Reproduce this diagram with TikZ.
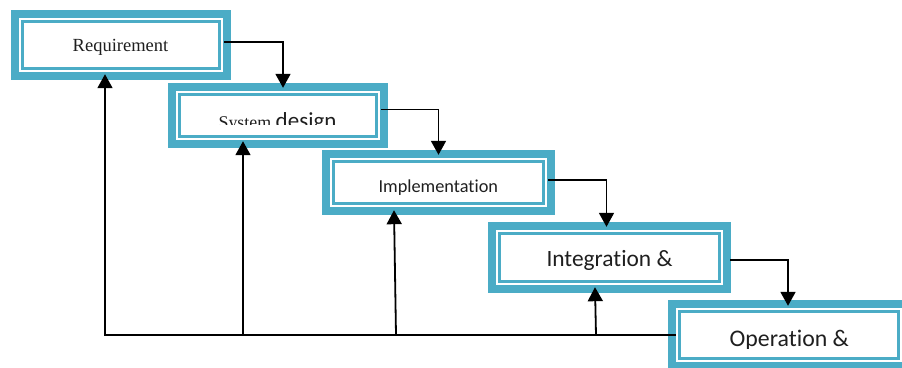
\documentclass[tikz,border=0pt]{standalone}
\usepackage{fontspec}
\setmainfont{Liberation Serif}
\newfontfamily\carlito[Ligatures={NoCommon,NoContextual}]{Carlito}
\usetikzlibrary{arrows.meta,calc}
\definecolor{frameteal}{HTML}{4BACC6}

\tikzset{
  stage/.style={fill=frameteal, draw=none, inner sep=0pt},
  link/.style={line width=1.8pt, line cap=rect},
  flow/.style={link, -{Triangle[width=15pt,length=14pt]}},
  caption/.style={anchor=base, inner sep=0pt, text=black!88},
}

% white interior plus the thin inner teal rule of a stage box
\newcommand\stageframe[1]{%
  \fill[white] ($(#1.north west)+(8.5pt,-8.5pt)$) rectangle ($(#1.south east)+(-8.5pt,8.5pt)$);
  \draw[frameteal, line width=2.5pt] ($(#1.north west)+(11.75pt,-11.75pt)$) rectangle ($(#1.south east)+(-11.75pt,11.75pt)$);
}

\begin{document}
\begin{tikzpicture}[x=1pt,y=-1pt]
\useasboundingbox (0,0) rectangle (902,367);
\clip (0,0) rectangle (902,367);

% stage boxes
\node[stage, minimum width=220pt, minimum height=70pt] (b1) at (121,45) {};
\stageframe{b1}
\node[stage, minimum width=220pt, minimum height=65pt] (b2) at (278,115.5) {};
\stageframe{b2}
\node[stage, minimum width=233pt, minimum height=65pt] (b3) at (438.5,182.5) {};
\stageframe{b3}
\node[stage, minimum width=243pt, minimum height=71pt] (b4) at (609.5,257.5) {};
\stageframe{b4}
\node[stage, minimum width=242pt, minimum height=70pt] (b5) at (789,335) {};
\stageframe{b5}

% captions
\node[caption, font=\fontsize{18.5}{22}\selectfont] (t1) at (120.5,51.7) {Requirement};
\begin{scope}
  \clip (182,95) rectangle (376,124.5);
  \node[caption] (t2) at (277.5,128.5)
    {\fontsize{17.9}{21}\selectfont System {\carlito\fontsize{23}{27}\selectfont design}};
\end{scope}
\node[caption, font=\carlito\fontsize{18.3}{22}\selectfont] (t3) at (438.3,192.3) {Implementation};
\begin{scope}
  \clip (500,234) rectangle (719,269.2);
  \node[caption, font=\carlito\fontsize{23.4}{28}\selectfont] (t4) at (609.5,266.7) {Integration \&};
\end{scope}
\begin{scope}
  \clip (680,312) rectangle (898,348.5);
  \node[caption, font=\carlito\fontsize{23.8}{28}\selectfont] (t5) at (789.3,346) {Operation \&};
\end{scope}

% forward flow between stages
\draw[flow] ($(b1.east)+(-6pt,3pt)$) -| ($(b2.north)+(5pt,-5pt)$);
\draw[flow] ($(b2.east)+(-6pt,6pt)$) -| ($(b3.north)+(0pt,-5pt)$);
\draw[flow] ($(b3.east)+(-6pt,2.5pt)$) -| ($(b4.north)+(-3pt,-5pt)$);
\draw[flow] ($(b4.east)+(0pt,-2.5pt)$) -| ($(b5.north)+(-1pt,-6pt)$);

% feedback paths back to earlier stages
\coordinate (fb1) at (105,335);
\coordinate (fb2) at (243,335);
\coordinate (fb3) at (396,335);
\coordinate (fb4) at (596,335);
\draw[flow] ($(b5.west)+(7pt,0pt)$) -- (fb1) -- ($(b1.south -| fb1)+(0pt,6pt)$);
\draw[flow] (fb2) -- ($(b2.south -| fb2)+(0pt,7pt)$);
\draw[flow] (fb3) -- ($(b3.south)+(-44.5pt,5pt)$);
\draw[flow] (fb4) -- ($(b4.south)+(-14.5pt,6pt)$);
\end{tikzpicture}
\end{document}
